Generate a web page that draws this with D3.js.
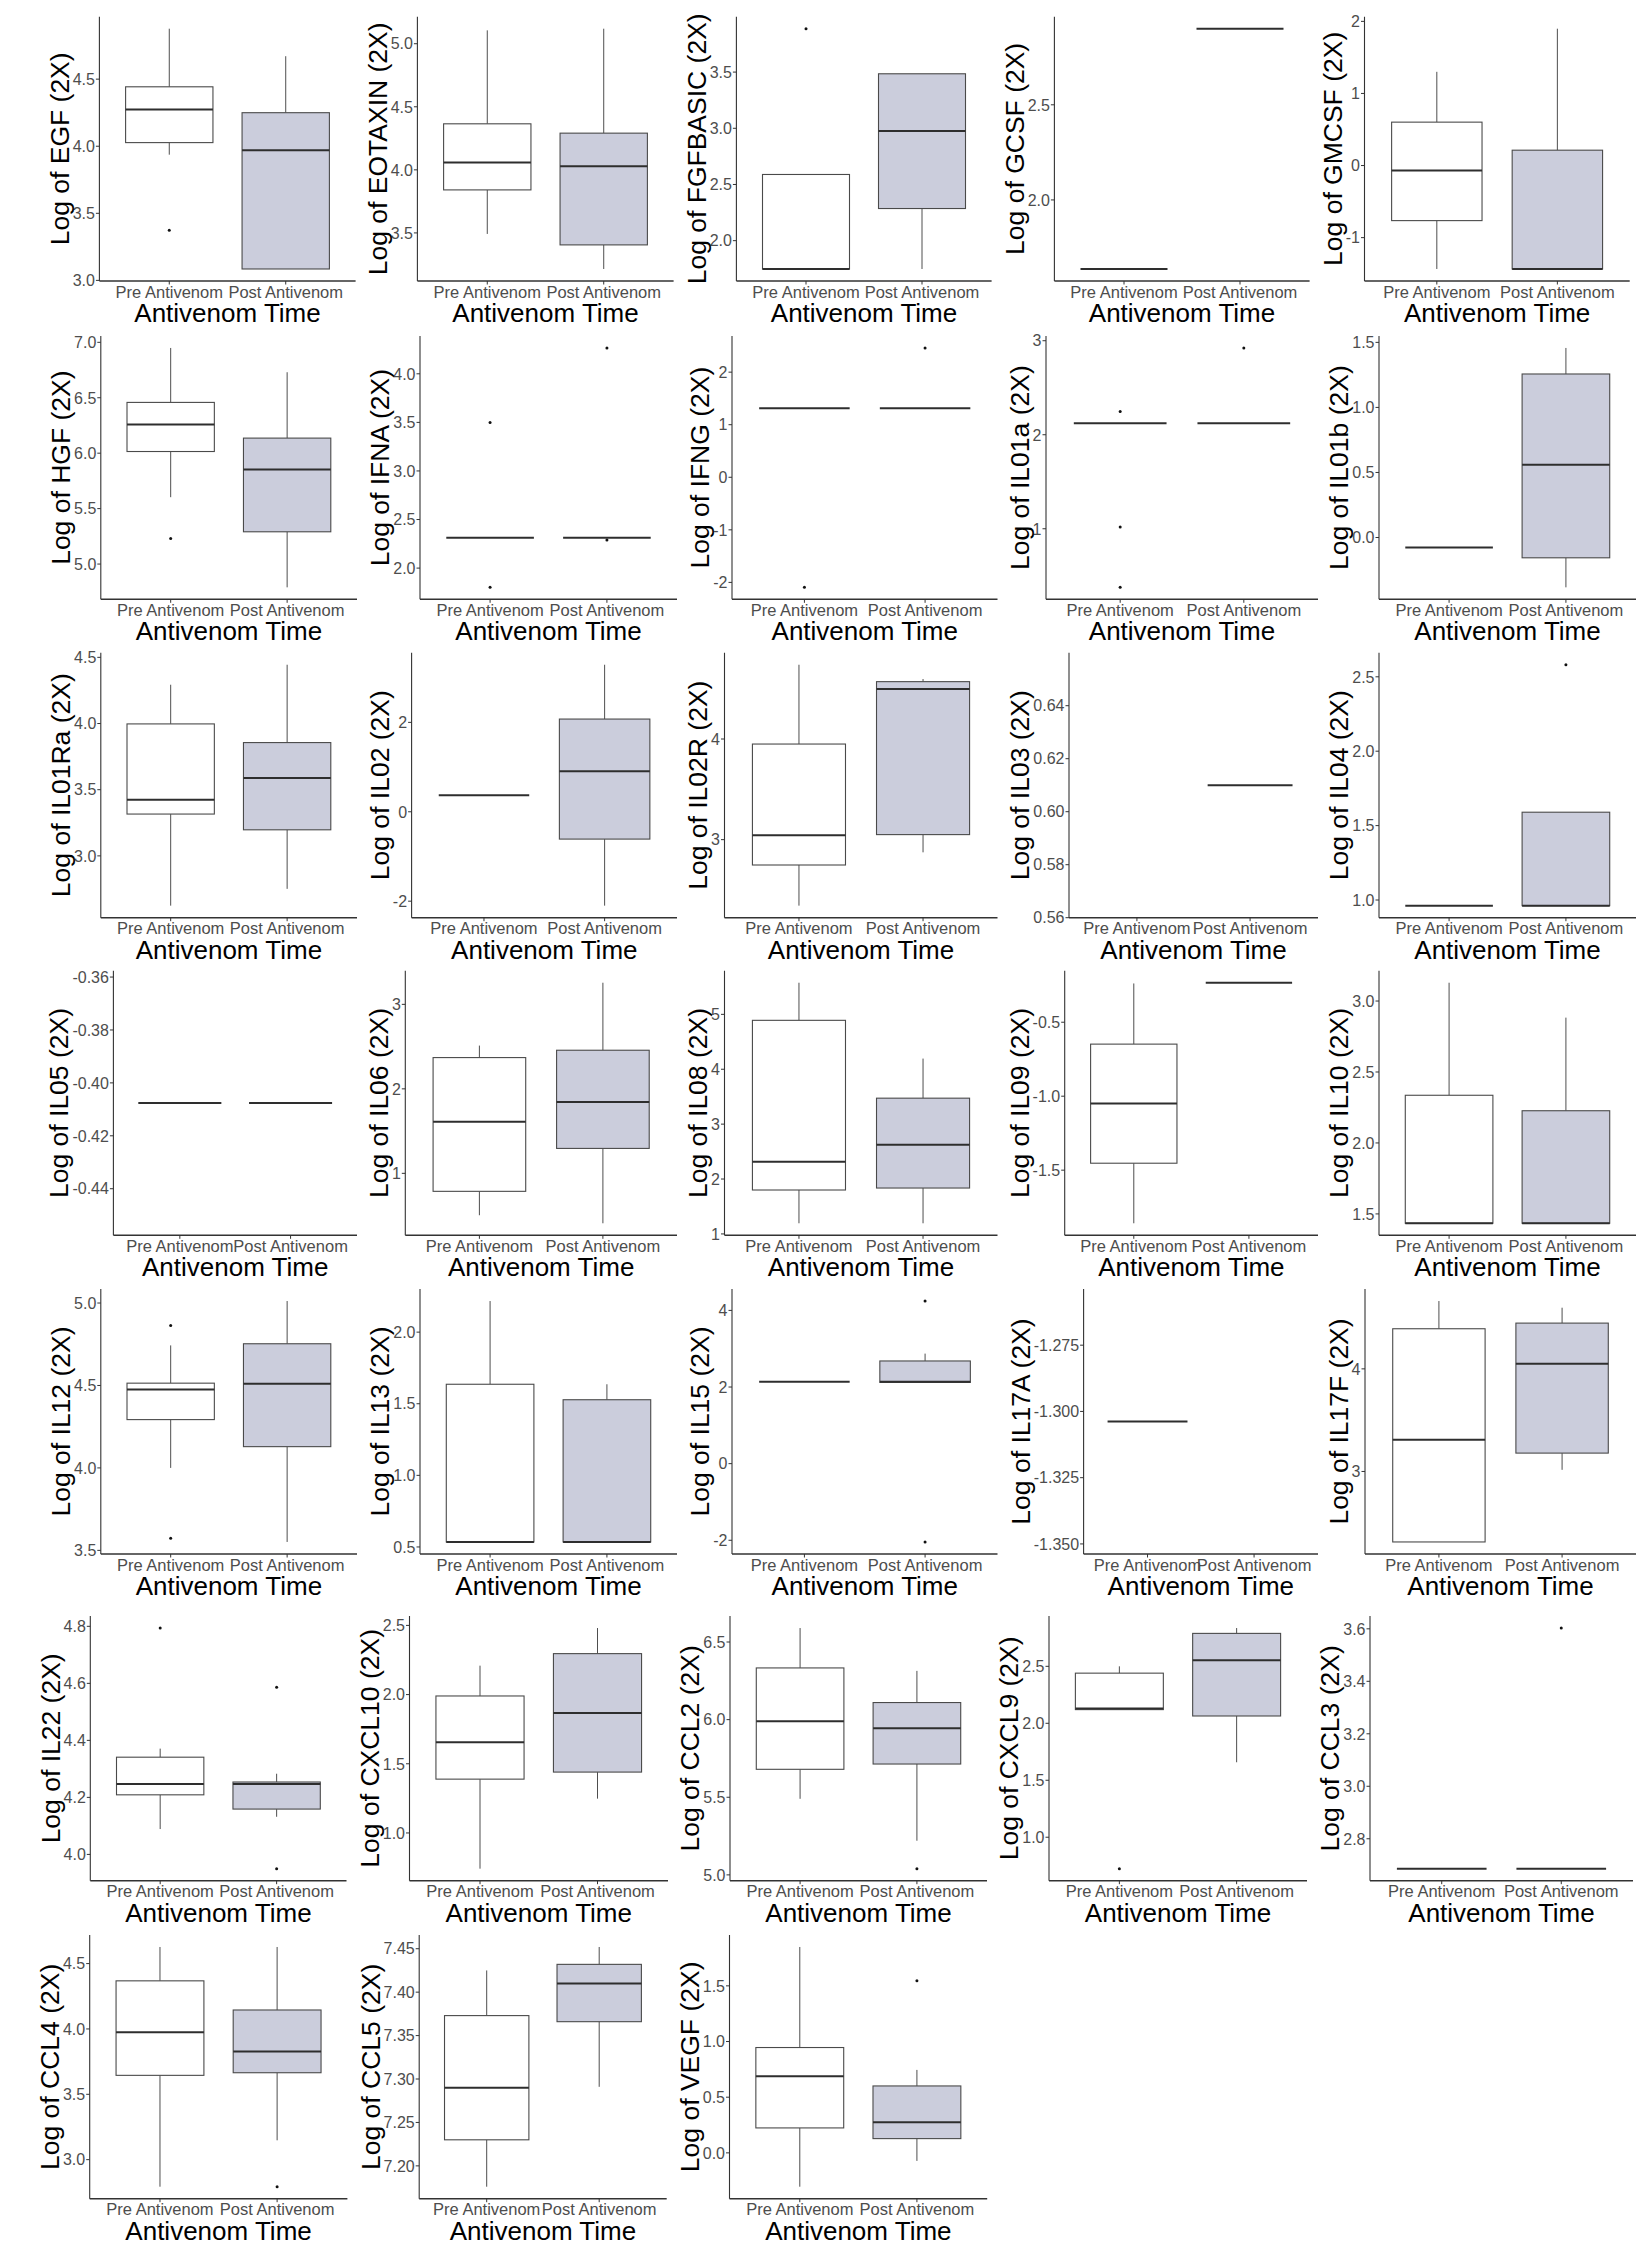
<!DOCTYPE html>
<html>
<head>
<meta charset="utf-8">
<script src="https://cdn.jsdelivr.net/npm/d3@7/dist/d3.min.js"></script>
<style>
  html, body { margin: 0; padding: 0; background: #ffffff; }
  svg { display: block; }
  text { font-family: "Liberation Sans", Arial, Helvetica, sans-serif; }
</style>
</head>
<body>
<svg id="chart" width="1638" height="2259"></svg>
<script>
// ---------------- DATA ----------------
const categories = ["Pre Antivenom", "Post Antivenom"];
const xTitle = "Antivenom Time";

const analytes = ["EGF","EOTAXIN","FGFBASIC","GCSF","GMCSF",
  "HGF","IFNA","IFNG","IL01a","IL01b",
  "IL01Ra","IL02","IL02R","IL03","IL04",
  "IL05","IL06","IL08","IL09","IL10",
  "IL12","IL13","IL15","IL17A","IL17F",
  "IL22","CXCL10","CCL2","CXCL9","CCL3",
  "CCL4","CCL5","VEGF"];

// box stats: [lower whisker, Q1, median, Q3, upper whisker]; null = no data
const preStats = [
  [3.937,4.027,4.273,4.443,4.876],
  [3.492,3.841,4.058,4.365,5.106],
  [1.748,1.748,1.748,2.589,2.589],
  [1.637,1.637,1.637,1.637,1.637],
  [-1.435,-0.764,-0.069,0.602,1.30],
  [5.603,6.015,6.258,6.458,6.949],
  [2.313,2.313,2.313,2.313,2.313],
  [1.315,1.315,1.315,1.315,1.315],
  [2.123,2.123,2.123,2.123,2.123],
  [-0.077,-0.077,-0.077,-0.077,-0.077],
  [2.624,3.316,3.424,3.997,4.293],
  [0.372,0.372,0.372,0.372,0.372],
  [2.344,2.748,3.043,3.950,4.738],
  null,
  [0.962,0.962,0.962,0.962,0.962],
  [-0.4076,-0.4076,-0.4076,-0.4076,-0.4076],
  [0.504,0.787,1.610,2.370,2.512],
  [1.194,1.800,2.315,4.891,5.576],
  [-1.859,-1.453,-1.049,-0.648,-0.238],
  [1.434,1.434,1.434,2.336,3.129],
  [4.000,4.293,4.475,4.514,4.743],
  [0.535,0.535,0.535,1.636,2.217],
  [2.140,2.140,2.140,2.140,2.140],
  [-1.3038,-1.3038,-1.3038,-1.3038,-1.3038],
  [2.313,2.313,3.309,4.391,4.661],
  [4.089,4.209,4.247,4.341,4.371],
  [0.742,1.389,1.656,1.990,2.209],
  [5.490,5.680,5.989,6.333,6.590],
  [2.120,2.120,2.130,2.440,2.500],
  [2.686,2.686,2.686,2.686,2.686],
  [2.793,3.645,3.975,4.368,4.627],
  [7.176,7.230,7.290,7.373,7.425],
  [-0.304,0.224,0.689,0.946,1.849]
];

const postStats = [
  [3.085,3.085,3.970,4.250,4.671],
  [3.214,3.405,4.029,4.291,5.119],
  [1.748,2.286,2.976,3.485,3.485],
  [2.900,2.900,2.900,2.900,2.900],
  [-1.435,-1.435,-1.435,0.213,1.898],
  [4.790,5.291,5.852,6.136,6.730],
  [2.313,2.313,2.313,2.313,2.313],
  [1.315,1.315,1.315,1.315,1.315],
  [2.123,2.123,2.123,2.123,2.123],
  [-0.383,-0.156,0.560,1.257,1.457],
  [2.751,3.197,3.588,3.856,4.444],
  [-2.100,-0.611,0.909,2.074,3.289],
  [2.874,3.050,4.497,4.570,4.596],
  [0.610,0.610,0.610,0.610,0.610],
  [0.962,0.962,0.962,1.590,1.590],
  [-0.4076,-0.4076,-0.4076,-0.4076,-0.4076],
  [0.409,1.295,1.843,2.457,3.256],
  [1.194,1.836,2.624,3.473,4.194],
  [-0.233,-0.233,-0.233,-0.233,-0.233],
  [1.434,1.434,1.434,2.227,2.883],
  [3.551,4.129,4.510,4.753,5.012],
  [0.535,0.535,0.535,1.528,1.636],
  [2.120,2.120,2.140,2.680,2.872],
  null,
  [3.016,3.179,4.049,4.446,4.596],
  [4.132,4.159,4.247,4.254,4.283],
  [1.248,1.440,1.867,2.296,2.481],
  [5.220,5.714,5.944,6.110,6.314],
  [1.658,2.064,2.553,2.789,2.836],
  [2.686,2.686,2.686,2.686,2.686],
  [3.148,3.665,3.827,4.145,4.627],
  [7.291,7.366,7.410,7.432,7.452],
  [-0.072,0.128,0.274,0.601,0.745]
];

const preOutliers = [
  [3.374],[],[3.886],[],[],
  [5.230],[3.5,1.802],[-2.094],[2.246,1.02,0.377],[],
  [],[],[],[],[],
  [],[],[],[],[],
  [4.864,3.573],[],[],[],[],
  [4.794],[],[],[0.724],[],
  [],[],[]
];

const postOutliers = [
  [],[],[],[],[],
  [],[4.266,2.29],[2.46],[2.923],[],
  [],[],[],[],[2.581],
  [],[],[],[],[],
  [],[],[4.244,-2.044],[],[],
  [4.586,3.95],[],[5.04],[],[3.603],
  [2.793],[],[1.545]
];

const yTickLabels = [
  ["3.0","3.5","4.0","4.5"],
  ["3.5","4.0","4.5","5.0"],
  ["2.0","2.5","3.0","3.5"],
  ["2.0","2.5"],
  ["-1","0","1","2"],
  ["5.0","5.5","6.0","6.5","7.0"],
  ["2.0","2.5","3.0","3.5","4.0"],
  ["-2","-1","0","1","2"],
  ["1","2","3"],
  ["0.0","0.5","1.0","1.5"],
  ["3.0","3.5","4.0","4.5"],
  ["-2","0","2"],
  ["3","4"],
  ["0.56","0.58","0.60","0.62","0.64"],
  ["1.0","1.5","2.0","2.5"],
  ["-0.44","-0.42","-0.40","-0.38","-0.36"],
  ["1","2","3"],
  ["1","2","3","4","5"],
  ["-1.5","-1.0","-0.5"],
  ["1.5","2.0","2.5","3.0"],
  ["3.5","4.0","4.5","5.0"],
  ["0.5","1.0","1.5","2.0"],
  ["-2","0","2","4"],
  ["-1.350","-1.325","-1.300","-1.275"],
  ["3","4"],
  ["4.0","4.2","4.4","4.6","4.8"],
  ["1.0","1.5","2.0","2.5"],
  ["5.0","5.5","6.0","6.5"],
  ["1.0","1.5","2.0","2.5"],
  ["2.8","3.0","3.2","3.4","3.6"],
  ["3.0","3.5","4.0","4.5"],
  ["7.20","7.25","7.30","7.35","7.40","7.45"],
  ["0.0","0.5","1.0","1.5"]
];

// ---------------- LAYOUT (plot panel frames) ----------------
const rowFrames = [[16.7,281],[336,599.3],[652.7,917.7],[970.7,1235.3],[1289,1554],[1616,1880.7],[1935,2198.7]];
const panelX = [
  [99.4,355.6],[417.4,673.6],[736.4,991.6],[1054.4,1309.6],[1364.5,1629.7],
  [100.8,357],[420,677],[732,997.5],[1046,1318],[1379,1636],
  [100.8,357],[411.6,677],[724.5,997.5],[1069,1318],[1379,1636],
  [113.4,357],[405.3,677],[724.5,997.5],[1064.7,1318],[1379,1636],
  [100.8,357],[420,677],[732,997.5],[1083.6,1318],[1365,1636],
  [90.3,346.5],[409.5,668],[730,987],[1049,1307],[1370,1633],
  [89.7,347.4],[419.2,666.7],[729.5,987.2]
];

const fills = ["#ffffff", "#cbcddc"];
const lineCol = "#3a3a3a";
const tickTextCol = "#4d4d4d";

const svg = d3.select("#chart");
svg.append("rect").attr("width",1638).attr("height",2259).attr("fill","#ffffff");

analytes.forEach((name, i) => {
  const row = Math.floor(i / 5);
  const [top, bottom] = rowFrames[row];
  const [left, right] = panelX[i];
  const groups = [
    {cat: categories[0], stats: preStats[i], out: preOutliers[i], fill: fills[0]},
    {cat: categories[1], stats: postStats[i], out: postOutliers[i], fill: fills[1]}
  ];
  // domain with ggplot-like 5% expansion
  let vals = [];
  groups.forEach(g => { if (g.stats) vals = vals.concat(g.stats); vals = vals.concat(g.out); });
  let [mn, mx] = d3.extent(vals);
  let pad = (mx - mn) * 0.05;
  if (mx - mn < 1e-9) pad = 0.05;
  const y = d3.scaleLinear().domain([mn - pad, mx + pad]).range([bottom, top]);
  const x = d3.scalePoint().domain(categories).range([left, right]).padding(0.6);
  const bw = x.step() * 0.75;

  const gP = svg.append("g");

  // boxes
  groups.forEach(g => {
    const cx = x(g.cat);
    if (g.stats) {
      const [lo, q1, med, q3, hi] = g.stats;
      gP.append("line").attr("x1",cx).attr("x2",cx).attr("y1",y(hi)).attr("y2",y(q3))
        .attr("stroke",lineCol).attr("stroke-width",0.9);
      gP.append("line").attr("x1",cx).attr("x2",cx).attr("y1",y(q1)).attr("y2",y(lo))
        .attr("stroke",lineCol).attr("stroke-width",0.9);
      gP.append("rect").attr("x",cx - bw/2).attr("width",bw)
        .attr("y",y(q3)).attr("height",Math.max(0, y(q1) - y(q3)))
        .attr("fill",g.fill).attr("stroke","#4a4a4a").attr("stroke-width",1.1);
      gP.append("line").attr("x1",cx - bw/2).attr("x2",cx + bw/2).attr("y1",y(med)).attr("y2",y(med))
        .attr("stroke","#2e2e2e").attr("stroke-width",2);
    }
    g.out.forEach(v => {
      gP.append("circle").attr("cx",cx).attr("cy",y(v)).attr("r",1.5).attr("fill","#111");
    });
  });

  // axes
  gP.append("line").attr("x1",left).attr("x2",left).attr("y1",top).attr("y2",bottom)
    .attr("stroke","#333").attr("stroke-width",1.1);
  gP.append("line").attr("x1",left).attr("x2",right).attr("y1",bottom).attr("y2",bottom)
    .attr("stroke","#333").attr("stroke-width",1.4);

  // y ticks
  let maxW = 0;
  yTickLabels[i].forEach(lbl => {
    const v = +lbl;
    const yy = y(v);
    gP.append("line").attr("x1",left - 3.5).attr("x2",left).attr("y1",yy).attr("y2",yy)
      .attr("stroke","#333").attr("stroke-width",1);
    const t = gP.append("text").attr("x",left - 4.5).attr("y",yy).attr("dy","0.36em")
      .attr("text-anchor","end").attr("font-size",16).attr("fill",tickTextCol).text(lbl);
    maxW = Math.max(maxW, t.node().getComputedTextLength());
  });

  // x ticks
  categories.forEach(c => {
    gP.append("line").attr("x1",x(c)).attr("x2",x(c)).attr("y1",bottom).attr("y2",bottom + 3.5)
      .attr("stroke","#333").attr("stroke-width",1);
    gP.append("text").attr("x",x(c)).attr("y",bottom + 16.5).attr("text-anchor","middle")
      .attr("font-size",16.5).attr("fill",tickTextCol).text(c);
  });

  // titles
  gP.append("text").attr("x",(left + right)/2).attr("y",bottom + 41).attr("text-anchor","middle")
    .attr("font-size",26).attr("fill","#000").text(xTitle);
  const tx = left - 4.5 - maxW - 4;
  const ty = (top + bottom)/2;
  gP.append("text").attr("transform",`translate(${tx},${ty}) rotate(-90)`)
    .attr("text-anchor","middle").attr("font-size",26.5).attr("fill","#000")
    .text(`Log of ${name} (2X)`);
});
</script>
</body>
</html>
